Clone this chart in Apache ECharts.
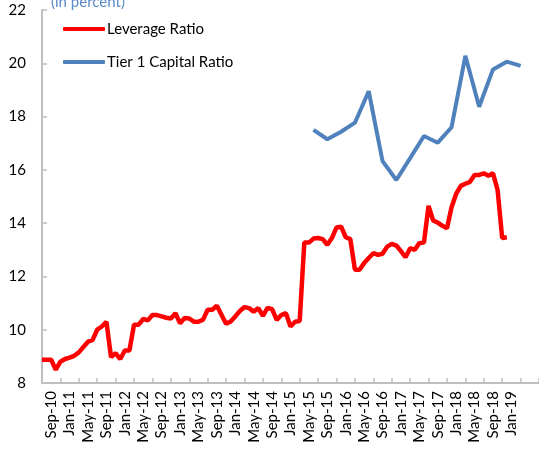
<!DOCTYPE html>
<html>
<head>
<meta charset="utf-8">
<script src="https://cdn.jsdelivr.net/npm/echarts@6/dist/echarts.min.js"></script>
<style>
  html, body { margin: 0; padding: 0; background: #ffffff; }
  #chart { width: 539px; height: 451px; }
</style>
</head>
<body>
<div id="chart"></div>
<script>
// Monthly axis runs from Jul-10 to Jul-19
const MONTH_NAMES = ['Jan','Feb','Mar','Apr','May','Jun','Jul','Aug','Sep','Oct','Nov','Dec'];
const startYear = 2010, startMonth = 6, monthCount = 109;
const months = [];
for (let i = 0; i < monthCount; i++) {
  const m = (startMonth + i) % 12;
  const y = startYear + Math.floor((startMonth + i) / 12);
  months.push(MONTH_NAMES[m] + '-' + String(y).slice(2));
}

// Tick labels shown under the axis
const tickLabels = ['Sep-10','Jan-11','May-11','Sep-11','Jan-12','May-12','Sep-12','Jan-13',
  'May-13','Sep-13','Jan-14','May-14','Sep-14','Jan-15','May-15','Sep-15','Jan-16','May-16',
  'Sep-16','Jan-17','May-17','Sep-17','Jan-18','May-18','Sep-18','Jan-19'];

// Leverage ratio, monthly from Jul-10 to Dec-18 (percent)
const leverageRatio = [
  8.87, 8.87, 8.87, 8.50, 8.80, 8.90, 8.95, 9.02, 9.15, 9.35,
  9.55, 9.62, 10.00, 10.12, 10.30, 8.97, 9.12, 8.90, 9.22, 9.22,
  10.19, 10.19, 10.41, 10.35, 10.55, 10.55, 10.50, 10.45, 10.42, 10.62,
  10.24, 10.44, 10.42, 10.30, 10.30, 10.38, 10.75, 10.75, 10.90, 10.56,
  10.22, 10.31, 10.50, 10.70, 10.85, 10.81, 10.68, 10.81, 10.52, 10.82,
  10.77, 10.37, 10.55, 10.62, 10.12, 10.30, 10.33, 13.27, 13.27, 13.42,
  13.44, 13.40, 13.19, 13.44, 13.84, 13.87, 13.47, 13.40, 12.25, 12.25,
  12.50, 12.69, 12.87, 12.81, 12.85, 13.12, 13.22, 13.16, 12.95, 12.72,
  13.06, 13.00, 13.25, 13.27, 14.65, 14.10, 14.02, 13.90, 13.81, 14.60,
  15.10, 15.40, 15.48, 15.55, 15.81, 15.81, 15.87, 15.78, 15.87, 15.25,
  13.44, 13.47
];

// Tier 1 capital ratio, quarterly (percent)
const tier1Quarters = ['Jun-15','Sep-15','Dec-15','Mar-16','Jun-16','Sep-16','Dec-16','Mar-17',
  'Jun-17','Sep-17','Dec-17','Mar-18','Jun-18','Sep-18','Dec-18','Mar-19'];
const tier1Ratio = [17.50, 17.15, 17.43, 17.77, 18.95, 16.33, 15.62, 16.44,
  17.27, 17.02, 17.60, 20.28, 18.37, 19.77, 20.06, 19.90];

// Place the quarterly values on the monthly axis
const tier1Series = months.map(() => null);
tier1Quarters.forEach((q, k) => { tier1Series[months.indexOf(q)] = tier1Ratio[k]; });

const FONT = 'Lato';
const chart = echarts.init(document.getElementById('chart'), null, { renderer: 'canvas' });

chart.setOption({
  animation: false,
  backgroundColor: '#ffffff',
  textStyle: { fontFamily: FONT },
  title: {
    text: '(in percent)',
    left: 46,
    top: -10,
    textStyle: { fontFamily: FONT, fontSize: 15, fontWeight: 'normal', color: '#5a8ac6' }
  },
  legend: {
    orient: 'vertical',
    left: 58,
    top: 15,
    itemWidth: 42,
    itemHeight: 4,
    itemGap: 15,
    icon: 'roundRect',
    textStyle: { fontFamily: FONT, fontSize: 15, color: '#000000', padding: [0, 0, 0, -3], lineHeight: 18 },
    data: ['Leverage Ratio', 'Tier 1 Capital Ratio']
  },
  grid: { left: 42, top: 10, width: 497, height: 373 },
  xAxis: {
    type: 'category',
    data: months,
    boundaryGap: false,
    axisLine: { lineStyle: { color: '#bfbfbf', width: 2 } },
    axisTick: {
      inside: true,
      length: 5,
      interval: (idx) => idx % 4 === 0,
      lineStyle: { color: '#bfbfbf', width: 1.5 }
    },
    axisLabel: {
      interval: (idx, val) => tickLabels.indexOf(val) !== -1,
      rotate: 90,
      margin: 8,
      fontFamily: FONT,
      fontSize: 15,
      color: '#000000'
    },
    splitLine: { show: false }
  },
  yAxis: {
    type: 'value',
    min: 8,
    max: 22,
    interval: 2,
    axisLine: { show: true, lineStyle: { color: '#bfbfbf', width: 2 } },
    axisTick: { show: true, inside: true, length: 5, lineStyle: { color: '#bfbfbf', width: 1.5 } },
    axisLabel: { margin: 16, fontFamily: FONT, fontSize: 15, color: '#000000' },
    splitLine: { show: false }
  },
  series: [
    {
      name: 'Leverage Ratio',
      type: 'line',
      data: leverageRatio,
      showSymbol: false,
      symbol: 'none',
      color: '#ff0000',
      lineStyle: { color: '#ff0000', width: 4.5 }
    },
    {
      name: 'Tier 1 Capital Ratio',
      type: 'line',
      data: tier1Series,
      connectNulls: true,
      showSymbol: false,
      symbol: 'none',
      color: '#4f81bd',
      lineStyle: { color: '#4f81bd', width: 4 }
    }
  ]
});
</script>
</body>
</html>
